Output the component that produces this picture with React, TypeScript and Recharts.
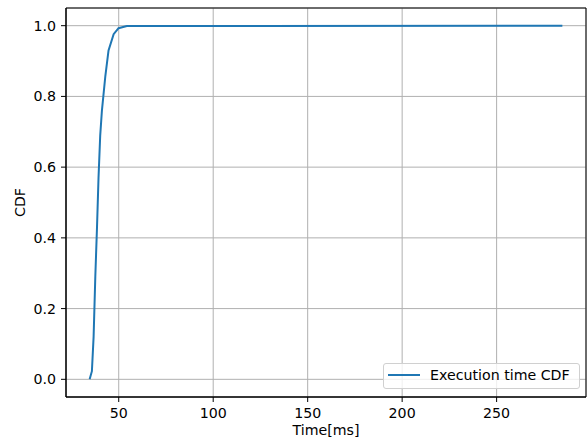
import React from "react";
import { LineChart, Line, XAxis, YAxis, CartesianGrid, Legend, ReferenceArea } from "recharts";

const timeMs = [34.6, 35.8, 36.7, 37.6, 38.5, 39.3, 40.2, 41.1, 42.9, 44.6, 47.3, 49.9, 54.3, 284.8];
const cdfValues = [0.0, 0.023, 0.12, 0.29, 0.43, 0.57, 0.69, 0.76, 0.857, 0.93, 0.976, 0.993, 0.999, 1.0];
const xTicks = [50, 100, 150, 200, 250];
const yTicks = [0, 0.2, 0.4, 0.6, 0.8, 1.0];
const seriesName = "Execution time CDF";

const data = timeMs.map((t, i) => ({ t, cdf: cdfValues[i] }));

const xMin = Math.min(...timeMs);
const xMax = Math.max(...timeMs);
const xPad = (xMax - xMin) * 0.05;
const xDomain = [xMin - xPad, xMax + xPad];
const yDomain = [-0.05, 1.05];

const FONT = "DejaVu Sans, sans-serif";
const FS = 14.2;

const LegendBox = () => (
  <div
    style={{
      position: "absolute",
      left: 383,
      top: 363,
      width: 197,
      height: 26,
      boxSizing: "border-box",
      border: "1px solid #d0d0d0",
      borderRadius: 3,
      background: "rgba(255,255,255,0.8)",
      fontFamily: FONT,
      fontSize: FS,
      color: "#000",
    }}
  >
    <div style={{ position: "absolute", left: 4, top: 10, width: 32, height: 2, background: "#1f77b4" }} />
    <div style={{ position: "absolute", left: 46, top: 3, whiteSpace: "nowrap", lineHeight: "17px" }}>{seriesName}</div>
  </div>
);

const XLabel = (props: any) => {
  const vb = props.viewBox || { x: 66, y: 397, width: 520 };
  return (
    <text x={vb.x + vb.width / 2} y={vb.y + 38.4} textAnchor="middle" fill="#000" fontSize={FS} fontFamily={FONT}>
      Time[ms]
    </text>
  );
};

const YLabel = (props: any) => {
  const vb = props.viewBox || { x: 0, y: 8, height: 389 };
  const cx = 19.5;
  const cy = vb.y + vb.height / 2;
  return (
    <text
      x={cx}
      y={cy}
      transform={`rotate(-90, ${cx}, ${cy})`}
      textAnchor="middle"
      dominantBaseline="central"
      fill="#000"
      fontSize={FS}
      fontFamily={FONT}
    >
      CDF
    </text>
  );
};

export default function App() {
  return (
    <div style={{ position: "absolute", left: 0, top: 0, width: 588, height: 441, background: "#fff" }}>
      <LineChart width={588} height={441} data={data} margin={{ top: 8, right: 2, bottom: 0, left: 0 }}>
        <CartesianGrid stroke="#b0b0b0" strokeWidth={1} />
        <XAxis
          dataKey="t"
          type="number"
          domain={xDomain}
          ticks={xTicks}
          allowDataOverflow
          height={44}
          stroke="#000"
          tickSize={5}
          tickMargin={6}
          tick={{ fill: "#000", fontSize: FS, fontFamily: FONT }}
          label={<XLabel />}
        />
        <YAxis
          type="number"
          domain={yDomain}
          ticks={yTicks}
          allowDataOverflow
          width={66}
          stroke="#000"
          tickSize={5}
          tickMargin={5}
          tickFormatter={(v: number) => v.toFixed(1)}
          tick={{ fill: "#000", fontSize: FS, fontFamily: FONT }}
          label={<YLabel />}
        />
        <ReferenceArea x1={xDomain[0]} x2={xDomain[1]} y1={yDomain[0]} y2={yDomain[1]} fill="none" stroke="#000" strokeWidth={1} />
        <Line
          type="linear"
          dataKey="cdf"
          name={seriesName}
          stroke="#1f77b4"
          strokeWidth={2}
          dot={false}
          isAnimationActive={false}
        />
        <Legend content={() => <LegendBox />} wrapperStyle={{ position: "absolute", left: 0, top: 0, width: 0, height: 0 }} />
      </LineChart>
    </div>
  );
}
